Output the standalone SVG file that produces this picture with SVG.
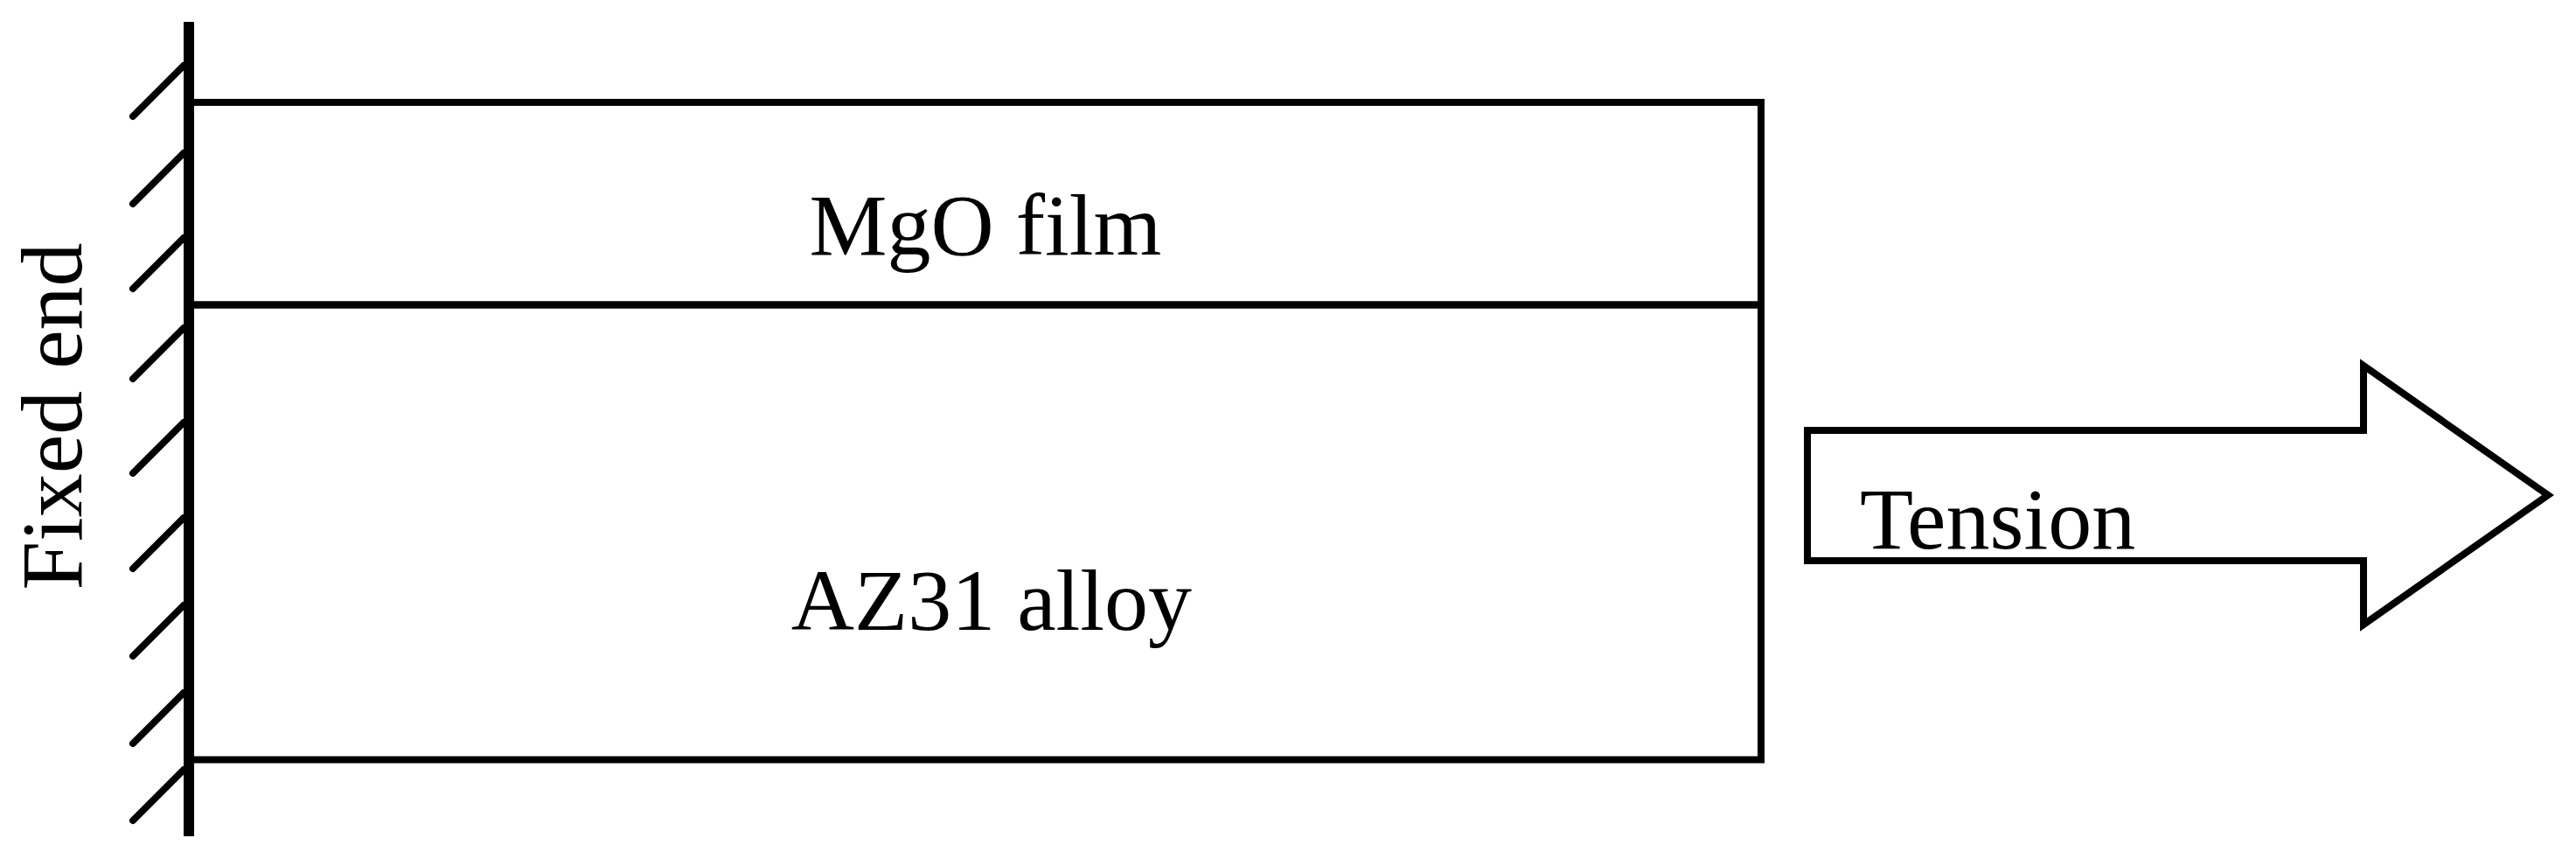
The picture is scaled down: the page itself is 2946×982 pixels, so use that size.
<svg xmlns="http://www.w3.org/2000/svg" width="2946" height="982" viewBox="0 0 2946 982">
<style>
.t{font-family:"Liberation Serif","Times New Roman",serif;font-size:100px;fill:#000}
.ln{stroke:#000;stroke-width:8;fill:none}
.h{stroke:#000;stroke-width:8;stroke-linecap:round}
</style>
<rect width="2946" height="982" fill="#fff"/>
<g id="wall">
<line x1="216" y1="25" x2="216" y2="956" stroke="#000" stroke-width="12"/>
<line class="h" x1="152" y1="133" x2="210" y2="75"/>
<line class="h" x1="152" y1="233" x2="210" y2="175"/>
<line class="h" x1="152" y1="330" x2="210" y2="272"/>
<line class="h" x1="152" y1="433" x2="210" y2="375"/>
<line class="h" x1="152" y1="541" x2="210" y2="483"/>
<line class="h" x1="152" y1="650" x2="210" y2="592"/>
<line class="h" x1="152" y1="750" x2="210" y2="692"/>
<line class="h" x1="152" y1="850" x2="210" y2="792"/>
<line class="h" x1="152" y1="938" x2="210" y2="880"/>
<text class="t" text-anchor="middle" transform="translate(93,476) rotate(-90)">Fixed end</text>
</g>
<g id="mgo-film">
<path class="ln" d="M216,117 H2014 V348.5 H216"/>
<text class="t" x="1127" y="291" text-anchor="middle">MgO film</text>
</g>
<g id="az31-alloy">
<path class="ln" d="M216,348.5 H2014 V868.5 H216"/>
<text class="t" x="1134" y="720" text-anchor="middle">AZ31 alloy</text>
</g>
<g id="tension">
<polygon class="ln" stroke-width="7" points="2067,492 2703,492 2703,418 2914,566 2703,714 2703,641 2067,641"/>
<text class="t" x="2127" y="627">Tension</text>
</g>
<g id="connectors"></g>
</svg>
